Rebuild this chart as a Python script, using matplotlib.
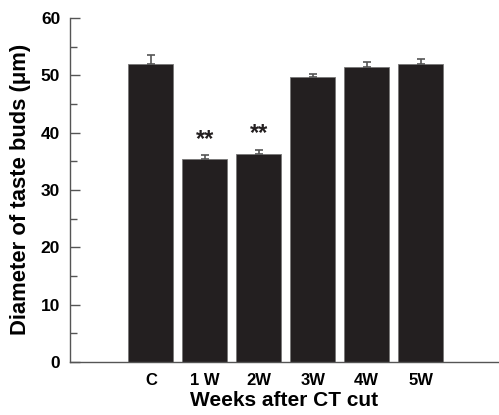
import matplotlib
matplotlib.use("Agg")
import matplotlib.pyplot as plt
from matplotlib.ticker import MultipleLocator

plt.rcParams["font.family"] = ["Liberation Sans", "DejaVu Sans"]
plt.rcParams["font.weight"] = "bold"

groups = ["C", "1 W", "2W", "3W", "4W", "5W"]
diameter = [52.0, 35.4, 36.3, 49.7, 51.5, 52.0]
sem = [1.5, 0.6, 0.7, 0.5, 0.8, 0.8]
marks = ["", "**", "**", "", "", ""]

fig = plt.figure(figsize=(4.99, 4.15), dpi=100)
ax = fig.add_axes([0.140, 0.128, 0.860, 0.829])

x = list(range(len(groups)))
bars = ax.bar(x, diameter, width=0.83, color="#231f20", edgecolor="#777777", linewidth=0.6,
              yerr=[[0] * len(sem), sem], capsize=3,
              error_kw=dict(ecolor="#555555", elinewidth=1.2, capthick=1.2))

for xi, v, e, m in zip(x, diameter, sem, marks):
    if m:
        ax.text(xi, v + e + 0.8, m, ha="center", va="bottom", fontsize=17, fontweight="bold", color="#231f20")

ax.set_xlim(-1.5, 6.45)
ax.set_ylim(0, 60)
ax.set_xticks(x)
ax.set_xticklabels(groups)
ax.yaxis.set_major_locator(MultipleLocator(10))
ax.yaxis.set_minor_locator(MultipleLocator(5))
ax.tick_params(axis="y", which="major", direction="in", length=7, width=1, color="#555555", labelsize=12.5, pad=7)
ax.tick_params(axis="y", which="minor", direction="in", length=5, width=1, color="#555555")
ax.tick_params(axis="x", length=0, labelsize=12, pad=8)

for s in ["top", "right"]:
    ax.spines[s].set_visible(False)
for s in ["left", "bottom"]:
    ax.spines[s].set_color("#555555")
    ax.spines[s].set_linewidth(1.0)

ax.set_ylabel("Diameter of taste buds (\u03bcm)", fontsize=15.8, fontweight="bold", labelpad=7)
ax.set_xlabel("Weeks after CT cut", fontsize=15, fontweight="bold", labelpad=2)

fig.savefig("out.png", dpi=100)
